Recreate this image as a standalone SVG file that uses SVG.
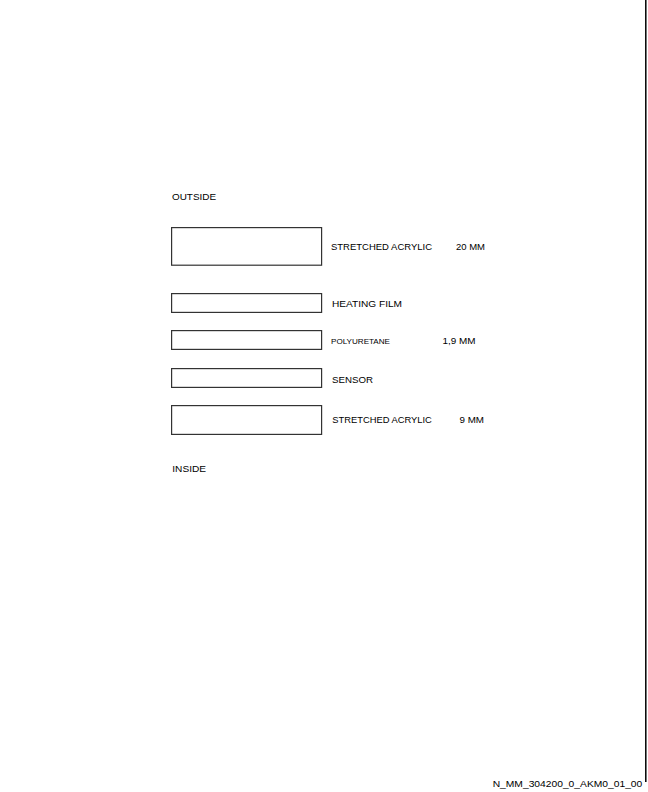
<svg xmlns="http://www.w3.org/2000/svg" width="648" height="792" viewBox="0 0 648 792">
<style>
.b{fill:#fff;stroke:#333;stroke-width:1.2}
.t{font-family:"Liberation Sans",Arial,sans-serif;font-size:9px;fill:#000}
.s{font-size:8px}
</style>
<rect width="648" height="792" fill="#fff"/>
<line x1="645.8" y1="0" x2="645.8" y2="782" stroke="#000" stroke-width="1.5"/>
<g id="label-outside"><text class="t" x="172" y="200" textLength="44" lengthAdjust="spacingAndGlyphs">OUTSIDE</text></g>
<g id="layer1">
<rect class="b" x="171.6" y="227.6" width="150" height="37.6"/>
<text class="t" x="331" y="250" textLength="101" lengthAdjust="spacingAndGlyphs">STRETCHED ACRYLIC</text>
<text class="t" x="456" y="250" textLength="29" lengthAdjust="spacingAndGlyphs">20 MM</text>
</g>
<g id="layer2">
<rect class="b" x="171.6" y="293.6" width="150" height="18.8"/>
<text class="t" x="332" y="306.5" textLength="70" lengthAdjust="spacingAndGlyphs">HEATING FILM</text>
</g>
<g id="layer3">
<rect class="b" x="171.6" y="330.6" width="150" height="18.8"/>
<text class="t s" x="331" y="344" textLength="59" lengthAdjust="spacingAndGlyphs">POLYURETANE</text>
<text class="t" x="442.5" y="344" textLength="33" lengthAdjust="spacingAndGlyphs">1,9 MM</text>
</g>
<g id="layer4">
<rect class="b" x="171.6" y="368.6" width="150" height="18.8"/>
<text class="t" x="332" y="383" textLength="41" lengthAdjust="spacingAndGlyphs">SENSOR</text>
</g>
<g id="layer5">
<rect class="b" x="171.6" y="405.6" width="150" height="28.8"/>
<text class="t" x="332.3" y="422.5" textLength="99.5" lengthAdjust="spacingAndGlyphs">STRETCHED ACRYLIC</text>
<text class="t" x="459.5" y="422.5" textLength="24.5" lengthAdjust="spacingAndGlyphs">9 MM</text>
</g>
<g id="label-inside"><text class="t" x="172.3" y="471.5" textLength="33.7" lengthAdjust="spacingAndGlyphs">INSIDE</text></g>
<g id="connectors"></g>
<text class="t" x="492.7" y="787" textLength="149.6" lengthAdjust="spacingAndGlyphs">N_MM_304200_0_AKM0_01_00</text>
</svg>
